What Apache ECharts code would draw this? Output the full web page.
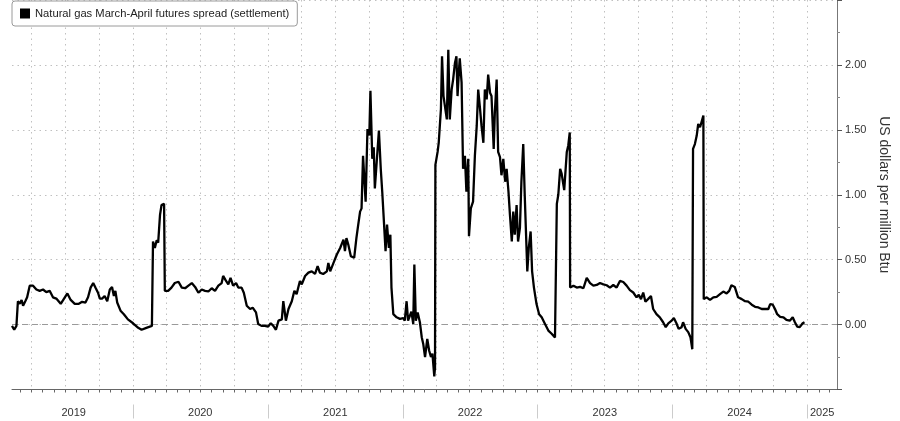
<!DOCTYPE html>
<html>
<head>
<meta charset="utf-8">
<script src="https://cdn.jsdelivr.net/npm/echarts@6/dist/echarts.min.js"></script>
<style>
html,body{margin:0;padding:0;background:#ffffff;}
#chart{width:900px;height:421px;}
</style>
</head>
<body>
<div id="chart"></div>
<script>
const seriesName = 'Natural gas March-April futures spread (settlement)';
const axisName = 'US dollars per million Btu';

const spread2019 = [
  ['2019-02-07',-0.01],['2019-02-13',-0.04],['2019-02-19',-0.01],['2019-02-21',-0.01],['2019-02-23',0.18],
  ['2019-02-28',0.16],['2019-03-05',0.19],['2019-03-09',0.145],['2019-03-15',0.18],['2019-03-20',0.21],
  ['2019-03-27',0.30],['2019-04-05',0.30],['2019-04-14',0.27],['2019-04-23',0.26],['2019-05-02',0.27],
  ['2019-05-11',0.25],['2019-05-20',0.26],['2019-05-29',0.21],['2019-06-07',0.20],['2019-06-19',0.16],
  ['2019-06-28',0.20],['2019-07-07',0.24],['2019-07-16',0.19],['2019-07-27',0.16],['2019-08-07',0.16],
  ['2019-08-16',0.175],['2019-08-25',0.17],['2019-09-01',0.21],['2019-09-08',0.285],['2019-09-15',0.32],
  ['2019-09-21',0.285],['2019-09-28',0.245],['2019-10-03',0.20],['2019-10-09',0.20],['2019-10-16',0.22],
  ['2019-10-23',0.18],['2019-10-30',0.27],['2019-11-05',0.29],['2019-11-10',0.22],['2019-11-14',0.26],
  ['2019-11-19',0.17],['2019-11-28',0.107],['2019-12-07',0.08],['2019-12-18',0.04]
];
const spread2020 = [
  ['2020-01-01',0.01],['2020-01-15',-0.025],['2020-01-24',-0.04],['2020-01-29',-0.04],['2020-02-06',-0.025],
  ['2020-02-11',-0.02],['2020-02-21',-0.01],['2020-02-24',0.64],['2020-02-29',0.59],['2020-03-05',0.65],
  ['2020-03-09',0.63],['2020-03-14',0.845],['2020-03-18',0.92],['2020-03-25',0.93],['2020-03-27',0.26],
  ['2020-04-05',0.26],['2020-04-14',0.285],['2020-04-23',0.32],['2020-05-03',0.33],['2020-05-12',0.285],
  ['2020-05-21',0.28],['2020-05-30',0.30],['2020-06-08',0.32],['2020-06-17',0.29],['2020-06-26',0.245],
  ['2020-07-05',0.27],['2020-07-14',0.26],['2020-07-23',0.255],['2020-08-01',0.28],['2020-08-10',0.26],
  ['2020-08-19',0.30],['2020-08-28',0.32],['2020-09-01',0.375],['2020-09-08',0.34],['2020-09-15',0.31],
  ['2020-09-21',0.36],['2020-09-28',0.30],['2020-10-06',0.32],['2020-10-12',0.285],['2020-10-21',0.285],
  ['2020-10-27',0.245],['2020-11-04',0.145],['2020-11-13',0.12],['2020-11-20',0.13],['2020-11-29',0.094],
  ['2020-12-05',0.005],['2020-12-14',-0.01],['2020-12-23',-0.01]
];
const spread2021 = [
  ['2021-01-01',-0.015],['2021-01-08',0.01],['2021-01-15',-0.01],['2021-01-22',-0.04],['2021-01-29',0.03],
  ['2021-02-07',0.04],['2021-02-11',0.18],['2021-02-18',0.03],['2021-02-25',0.12],['2021-03-06',0.18],
  ['2021-03-13',0.26],['2021-03-19',0.234],['2021-03-28',0.336],['2021-04-02',0.31],['2021-04-11',0.374],
  ['2021-04-20',0.40],['2021-04-29',0.41],['2021-05-08',0.39],['2021-05-15',0.45],['2021-05-21',0.40],
  ['2021-05-30',0.39],['2021-06-09',0.41],['2021-06-13',0.475],['2021-06-18',0.41],['2021-06-27',0.475],
  ['2021-07-06',0.54],['2021-07-15',0.59],['2021-07-24',0.654],['2021-07-28',0.565],['2021-08-01',0.666],
  ['2021-08-06',0.616],['2021-08-13',0.527],['2021-08-22',0.514],['2021-08-28',0.666],['2021-09-02',0.77],
  ['2021-09-07',0.87],['2021-09-11',0.895],['2021-09-15',1.30],['2021-09-22',0.947],['2021-09-27',1.506],
  ['2021-10-02',1.456],['2021-10-05',1.80],['2021-10-10',1.277],['2021-10-14',1.366],['2021-10-17',1.048],
  ['2021-10-22',1.252],['2021-10-28',1.494],['2021-11-02',1.20],['2021-11-06',1.023],['2021-11-11',0.77],
  ['2021-11-15',0.565],['2021-11-19',0.77],['2021-11-24',0.59],['2021-11-28',0.692],['2021-12-01',0.285],
  ['2021-12-06',0.08],['2021-12-15',0.056],['2021-12-24',0.044]
];
const spread2022 = [
  ['2022-01-02',0.05],['2022-01-06',0.03],['2022-01-11',0.18],['2022-01-15',0.03],['2022-01-24',0.10],
  ['2022-01-29',0.005],['2022-02-01',0.463],['2022-02-05',0.03],['2022-02-10',0.094],['2022-02-16',0.018],
  ['2022-02-21',-0.097],['2022-02-25',-0.147],['2022-03-02',-0.25],['2022-03-08',-0.11],['2022-03-13',-0.20],
  ['2022-03-18',-0.25],['2022-03-22',-0.224],['2022-03-27',-0.40],['2022-03-29',-0.33],['2022-03-30',1.23],
  ['2022-04-05',1.33],['2022-04-08',1.40],['2022-04-14',1.66],['2022-04-17',2.066],['2022-04-21',1.76],
  ['2022-04-26',1.66],['2022-04-30',1.58],['2022-05-04',2.117],['2022-05-08',1.58],['2022-05-13',1.81],
  ['2022-05-17',1.887],['2022-05-22',2.015],['2022-05-26',2.066],['2022-05-29',1.76],['2022-06-02',1.964],
  ['2022-06-04',2.05],['2022-06-09',1.863],['2022-06-13',1.20],['2022-06-18',1.30],['2022-06-22',1.023],
  ['2022-06-27',1.277],['2022-06-29',0.68],['2022-07-04',0.895],['2022-07-10',0.947],['2022-07-15',1.30],
  ['2022-07-20',1.53],['2022-07-24',1.81],['2022-07-29',1.66],['2022-08-02',1.53],['2022-08-07',1.40],
  ['2022-08-11',1.81],['2022-08-16',1.735],['2022-08-20',1.926],['2022-08-25',1.786],['2022-08-29',1.76],
  ['2022-09-04',1.353],['2022-09-07',1.63],['2022-09-12',1.887],['2022-09-16',1.33],['2022-09-21',1.29],
  ['2022-09-25',1.15],['2022-09-30',1.277],['2022-10-05',1.10],['2022-10-09',1.20],['2022-10-14',1.023],
  ['2022-10-18',0.845],['2022-10-23',0.64],['2022-10-27',0.87],['2022-10-31',0.692],['2022-11-05',0.92],
  ['2022-11-09',0.64],['2022-11-14',0.743],['2022-11-18',1.10],['2022-11-23',1.39],['2022-11-27',1.00],
  ['2022-12-04',0.41],['2022-12-08',0.59],['2022-12-13',0.717],['2022-12-17',0.41],['2022-12-22',0.285],
  ['2022-12-29',0.158]
];
const spread2023 = [
  ['2023-01-05',0.08],['2023-01-12',0.056],['2023-01-21',0.005],['2023-01-30',-0.046],['2023-02-08',-0.071],
  ['2023-02-17',-0.10],['2023-02-21',-0.11],['2023-02-22',0.93],['2023-02-26',1.00],['2023-03-03',1.20],
  ['2023-03-07',1.163],['2023-03-14',1.036],['2023-03-21',1.33],['2023-03-25',1.38],['2023-03-29',1.48],
  ['2023-03-30',0.285],['2023-04-08',0.30],['2023-04-17',0.285],['2023-04-26',0.29],['2023-05-05',0.28],
  ['2023-05-14',0.36],['2023-05-23',0.32],['2023-06-01',0.30],['2023-06-10',0.305],['2023-06-19',0.32],
  ['2023-06-28',0.31],['2023-07-07',0.303],['2023-07-16',0.285],['2023-07-25',0.305],['2023-08-03',0.285],
  ['2023-08-12',0.336],['2023-08-21',0.328],['2023-08-30',0.30],['2023-09-08',0.265],['2023-09-17',0.247],
  ['2023-09-26',0.21],['2023-10-02',0.23],['2023-10-08',0.196],['2023-10-14',0.247],['2023-10-20',0.176],
  ['2023-10-27',0.196],['2023-11-04',0.22],['2023-11-10',0.12],['2023-11-19',0.08],['2023-11-28',0.056],
  ['2023-12-07',0.018],['2023-12-14',-0.02],['2023-12-21',0.01],['2023-12-30',0.03]
];
const spread2024 = [
  ['2024-01-05',0.05],['2024-01-12',0.01],['2024-01-18',-0.033],['2024-01-26',-0.02],['2024-01-30',0.018],
  ['2024-02-06',-0.033],['2024-02-13',-0.058],['2024-02-19',-0.097],['2024-02-24',-0.19],['2024-02-26',1.353],
  ['2024-03-02',1.39],['2024-03-07',1.456],['2024-03-11',1.545],['2024-03-16',1.52],['2024-03-20',1.53],
  ['2024-03-25',1.61],['2024-03-26',0.196],['2024-04-03',0.21],['2024-04-12',0.19],['2024-04-21',0.21],
  ['2024-04-30',0.214],['2024-05-09',0.234],['2024-05-18',0.254],['2024-05-27',0.24],['2024-06-03',0.26],
  ['2024-06-09',0.303],['2024-06-18',0.29],['2024-06-27',0.21],['2024-07-07',0.196],['2024-07-16',0.18],
  ['2024-07-25',0.176],['2024-08-03',0.153],['2024-08-12',0.137],['2024-08-21',0.132],['2024-08-30',0.12],
  ['2024-09-08',0.12],['2024-09-17',0.12],['2024-09-22',0.158],['2024-09-29',0.153],['2024-10-05',0.12],
  ['2024-10-11',0.08],['2024-10-19',0.06],['2024-10-28',0.056],['2024-11-05',0.036],['2024-11-14',0.03],
  ['2024-11-22',0.056],['2024-11-28',0.018],['2024-12-04',-0.015],['2024-12-11',-0.02],['2024-12-19',0.01],
  ['2024-12-24',0.018]
];

const xStart = '2019-02-07';
const xEnd = '2025-03-22';
const yearLabels = ['2019','2020','2021','2022','2023','2024','2025'];
const yearLabelDates = ['2019-07-24','2020-07-01','2021-07-02','2022-07-02','2023-07-02','2024-07-01','2025-02-10'];
const yearBoundaryDates = ['2020-01-01','2021-01-01','2022-01-01','2023-01-01','2024-01-01','2025-01-01'];
const yMin = -0.5, yMax = 2.5, yStep = 0.5;

function ts(s) {
  const p = s.split('-').map(Number);
  return new Date(p[0], p[1] - 1, p[2]).getTime();
}

const allSpread = [].concat(spread2019, spread2020, spread2021, spread2022, spread2023, spread2024)
  .map(d => [ts(d[0]), d[1]]);

const monthTicks = [];
const quarterTicks = [];
for (let y = 2019; y <= 2025; y++) {
  for (let m = 0; m < 12; m++) {
    const t = new Date(y, m, 1).getTime();
    if (t <= ts(xStart) || t >= ts(xEnd)) continue;
    monthTicks.push(t);
    if (m % 3 === 0) quarterTicks.push(t);
  }
}
const yearLabelTs = yearLabelDates.map(ts);
const yearBoundaryTs = yearBoundaryDates.map(ts);

const FONT = '"Liberation Sans", Arial, sans-serif';
const chart = echarts.init(document.getElementById('chart'), null, {renderer: 'canvas'});
chart.setOption({
  animation: false,
  backgroundColor: '#ffffff',
  textStyle: {fontFamily: FONT},
  legend: {
    left: 12, top: 1,
    data: [seriesName],
    icon: 'rect', itemWidth: 10, itemHeight: 10, itemGap: 5,
    padding: [7, 8, 7, 8],
    borderColor: '#9a9a9a', borderWidth: 1, borderRadius: 3,
    backgroundColor: '#ffffff',
    textStyle: {fontSize: 11.2, color: '#222222', fontFamily: FONT},
    selectedMode: false
  },
  grid: {left: 12, right: 63, top: -3.5, bottom: 31.5, containLabel: false},
  xAxis: [
    {
      type: 'value', min: ts(xStart), max: ts(xEnd), position: 'bottom',
      axisLine: {show: true, onZero: false, lineStyle: {color: '#666666', width: 1}},
      axisTick: {show: true, customValues: monthTicks, length: 3, lineStyle: {color: '#666666'}},
      axisLabel: {
        show: true, customValues: yearLabelTs, margin: 18, fontSize: 11, color: '#333333',
        formatter: v => {
          const i = yearLabelTs.indexOf(v);
          return i >= 0 ? yearLabels[i] : String(new Date(v).getFullYear());
        }
      },
      splitLine: {show: false}
    },
    {
      type: 'value', min: ts(xStart), max: ts(xEnd), position: 'bottom', offset: 15,
      axisLine: {show: false, onZero: false},
      axisTick: {show: true, customValues: yearBoundaryTs, length: 14, lineStyle: {color: '#cccccc', width: 1}},
      axisLabel: {show: false},
      splitLine: {show: false}
    },
    {
      type: 'value', min: ts(xStart), max: ts(xEnd), position: 'bottom',
      axisLine: {show: false, onZero: false},
      axisTick: {show: false, customValues: quarterTicks},
      axisLabel: {show: false},
      splitLine: {show: true, lineStyle: {color: '#c0c0c0', type: [1.5, 4], width: 1}}
    }
  ],
  yAxis: {
    type: 'value', position: 'right', min: yMin, max: yMax, interval: yStep,
    name: axisName, nameLocation: 'middle', nameRotate: -90, nameGap: 28,
    nameTextStyle: {fontSize: 14, color: '#333333', fontFamily: FONT},
    axisLine: {show: true, onZero: false, lineStyle: {color: '#777777', width: 1}},
    axisTick: {show: true, length: 5, lineStyle: {color: '#555555'}},
    minorTick: {show: true, splitNumber: 2, length: 3, lineStyle: {color: '#888888'}},
    axisLabel: {
      margin: 8, fontSize: 11, color: '#333333',
      formatter: v => (v < -0.01 || v > 2.01) ? '' : v.toFixed(2)
    },
    splitLine: {show: true, lineStyle: {color: '#c0c0c0', type: [1.5, 4], width: 1}},
    minorSplitLine: {show: false}
  },
  series: [{
    name: seriesName,
    type: 'line',
    xAxisIndex: 0,
    data: allSpread,
    showSymbol: false,
    symbol: 'none',
    color: '#000000',
    lineStyle: {color: '#000000', width: 2.3},
    z: 3,
    markLine: {
      silent: true,
      symbol: ['none', 'none'],
      label: {show: false},
      lineStyle: {color: '#9a9a9a', type: [6, 4], width: 1},
      data: [{yAxis: 0}],
      z: 2
    }
  }]
});
</script>
</body>
</html>
